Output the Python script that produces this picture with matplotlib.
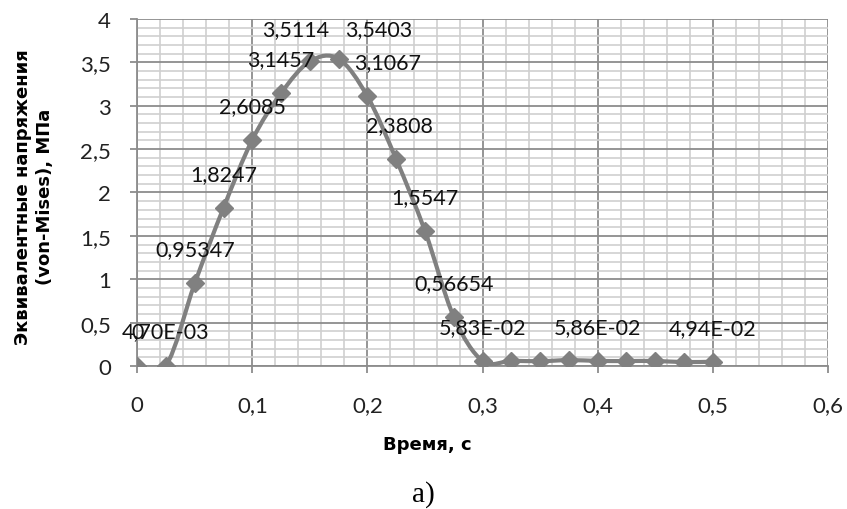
import matplotlib
matplotlib.use("Agg")
import matplotlib.pyplot as plt
from matplotlib.path import Path
from matplotlib.patches import PathPatch
from matplotlib.ticker import MultipleLocator, FuncFormatter
import numpy as np

# time, s
time = [0, 0.025, 0.05, 0.075, 0.1, 0.125, 0.15, 0.175, 0.2, 0.225, 0.25,
        0.275, 0.3, 0.325, 0.35, 0.375, 0.4, 0.425, 0.45, 0.475, 0.5]
# von-Mises stress, MPa
stress = [0, 0.0047, 0.95347, 1.8247, 2.6085, 3.1457, 3.5114, 3.5403, 3.1067,
          2.3808, 1.5547, 0.56654, 0.0583, 0.060, 0.055, 0.068, 0.0586, 0.057,
          0.058, 0.045, 0.0494]
# indices of points that carry a data label, with the label text
label_idx = [0, 1, 2, 3, 4, 5, 6, 7, 8, 9, 10, 11, 12, 16, 20]
label_txt = ["0", "4,70E-03", "0,95347", "1,8247", "2,6085", "3,1457", "3,5114",
             "3,5403", "3,1067", "2,3808", "1,5547", "0,56654", "5,83E-02",
             "5,86E-02", "4,94E-02"]
# label shifts in pixels (Excel labels were dragged a bit near the peak)
label_shift = {6: (-14, 32), 7: (40, 30), 8: (20, 34), 9: (3, 34)}

GRAY = "#808080"
FONT = "Lato"
BOLD = "DejaVu Sans"

fig = plt.figure(figsize=(8.47, 5.10), dpi=100)
ax = fig.add_axes([0.162, 0.2804, 0.8155, 0.6804])

# smoothed line, like Excel's "smoothed line" option (cubic bezier through points)
x = np.array(time)
y = np.array(stress)
verts = [(x[0], y[0])]
codes = [Path.MOVETO]
n = len(x)
for i in range(n - 1):
    x0, y0 = (x[i - 1], y[i - 1]) if i > 0 else (x[i], y[i])
    x3, y3 = (x[i + 2], y[i + 2]) if i + 2 < n else (x[i + 1], y[i + 1])
    c1 = (x[i] + (x[i + 1] - x0) / 6, y[i] + (y[i + 1] - y0) / 6)
    c2 = (x[i + 1] - (x3 - x[i]) / 6, y[i + 1] - (y3 - y[i]) / 6)
    verts += [c1, c2, (x[i + 1], y[i + 1])]
    codes += [Path.CURVE4] * 3
ax.add_patch(PathPatch(Path(verts, codes), facecolor="none", edgecolor=GRAY,
                       lw=3, zorder=3, capstyle="round", joinstyle="round"))
ax.plot(time, stress, ls="none", marker="D", ms=9.5, color=GRAY,
        markeredgecolor=GRAY, zorder=4)

for i, t in zip(label_idx, label_txt):
    dx, dy = label_shift.get(i, (0, 34))
    ax.annotate(t, (time[i], stress[i]), textcoords="offset pixels",
                xytext=(dx, dy), ha="center", va="center",
                fontsize=15.5, family=FONT, color="#111111", zorder=5)

ax.set_xlim(0, 0.6)
ax.set_ylim(0, 4)
ax.xaxis.set_major_locator(MultipleLocator(0.1))
ax.xaxis.set_minor_locator(MultipleLocator(0.02))
ax.yaxis.set_major_locator(MultipleLocator(0.5))
ax.yaxis.set_minor_locator(MultipleLocator(0.1))
fmt = FuncFormatter(lambda v, p: ("%g" % round(v, 2)).replace(".", ","))
ax.xaxis.set_major_formatter(fmt)
ax.yaxis.set_major_formatter(fmt)

ax.grid(which="major", color="#8c8c8c", lw=1.3, zorder=1)
ax.grid(which="minor", color="#cfcfcf", lw=1.2, zorder=0)
ax.set_axisbelow(True)
for s in ["top", "right"]:
    ax.spines[s].set_visible(False)
for s in ["left", "bottom"]:
    ax.spines[s].set_color("#8c8c8c")
    ax.spines[s].set_linewidth(1.3)

ax.tick_params(which="major", length=5, width=1.3, color="#8c8c8c",
               labelsize=16, labelcolor="#222222")
ax.tick_params(axis="x", which="major", pad=16)
ax.tick_params(axis="y", which="major", pad=14)
ax.tick_params(which="minor", length=0)
for lab in ax.get_xticklabels() + ax.get_yticklabels():
    lab.set_family(FONT)

ax.set_xlabel("Время, с", fontsize=13, fontweight="bold", family=BOLD)
ax.xaxis.set_label_coords(0.42, -0.2)
ax.set_ylabel("Эквивалентные напряжения\n(von-Mises), МПа", fontsize=13,
              fontweight="bold", family=BOLD, linespacing=1.3)
ax.yaxis.set_label_coords(-0.12, 0.49)

fig.text(0.4995, 0.016, "а)", ha="center", va="baseline", fontsize=21,
         family="Liberation Serif")

fig.savefig("out.png", dpi=100)
